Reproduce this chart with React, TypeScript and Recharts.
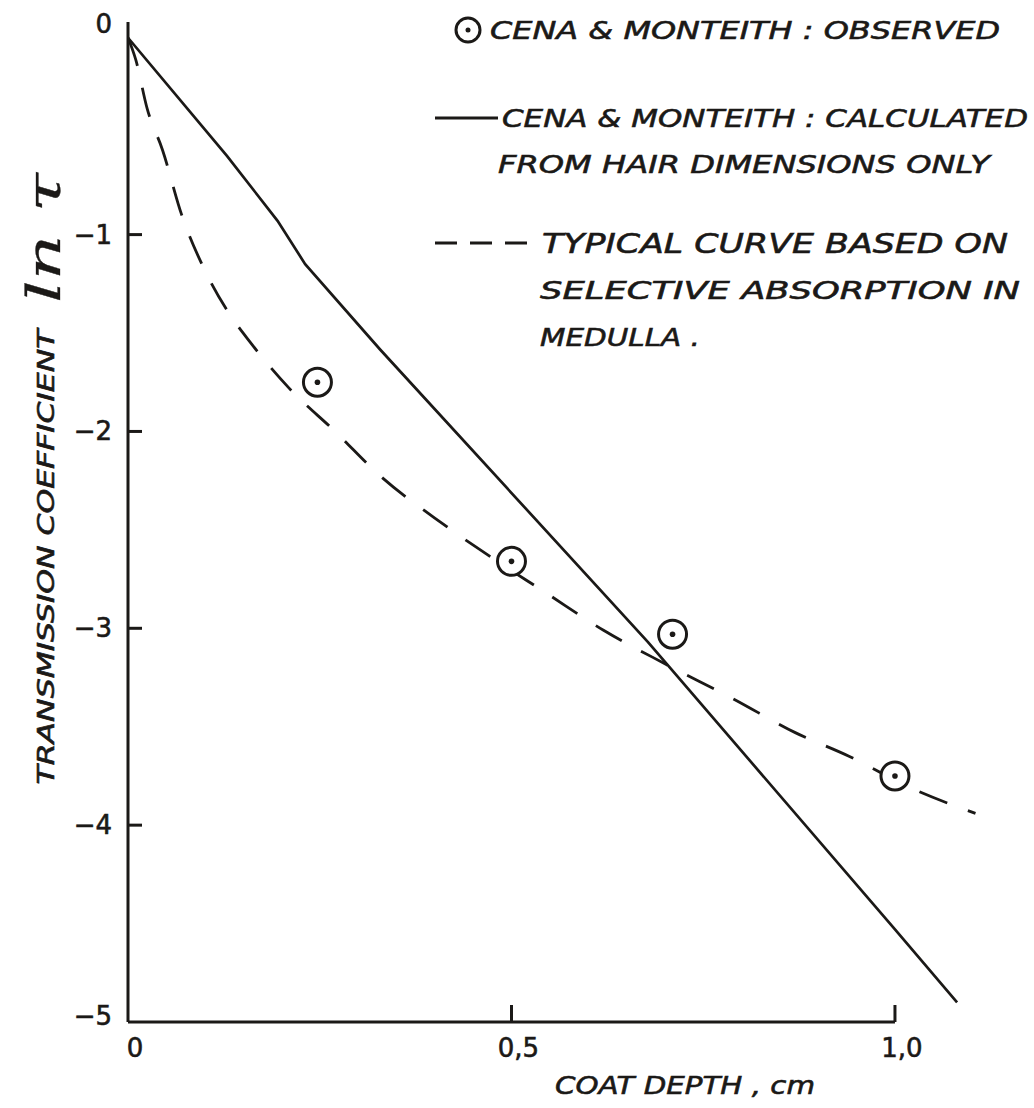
import { ComposedChart, Line, Scatter, XAxis, YAxis, ReferenceLine } from 'recharts'

const INK = '#1b1917'
const FONT = "'DejaVu Sans', sans-serif"

// dashed curve: selective absorption in medulla
const depthDashed = [0, 0.01, 0.025, 0.045, 0.07, 0.1, 0.13, 0.16, 0.21, 0.27, 0.33, 0.4, 0.47, 0.545, 0.62, 0.7, 0.79, 0.87, 0.94, 1.02, 1.105]
const lnDashed = [0, -0.11, -0.36, -0.57, -0.9, -1.18, -1.39, -1.55, -1.78, -2.0, -2.23, -2.44, -2.63, -2.82, -3.01, -3.18, -3.36, -3.53, -3.65, -3.81, -3.94]

// solid line: calculated from hair dimensions only
const depthSolid = [0, 0.129, 0.195, 0.231, 0.329, 0.678, 1.0, 1.081]
const lnSolid = [0, -0.6, -0.93, -1.15, -1.585, -3.07, -4.53, -4.9]

// observed points
const depthObserved = [0.247, 0.5, 0.71, 1.0]
const lnObserved = [-1.75, -2.66, -3.03, -3.75]

const xTicks = [0, 0.5, 1]
const yTicks = [0, -1, -2, -3, -4, -5]

const dashedData = depthDashed.map((d, i) => ({ depth: d, ln: lnDashed[i] }))
const solidData = depthSolid.map((d, i) => ({ depth: d, ln: lnSolid[i] }))
const observedData = depthObserved.map((d, i) => ({ depth: d, ln: lnObserved[i] }))

const YTick = (props: any) => {
  const { x, y, payload } = props
  const v = payload.value
  const label = v === 0 ? '0' : '−' + Math.abs(v)
  const ly = v === 0 ? y - 14 : v === -5 ? y - 6 : y
  return (
    <g>
      {v !== 0 && v !== -5 && <path d={`M${x},${y}h14`} stroke={INK} strokeWidth={3} fill="none" />}
      <text x={x - 16} y={ly} textAnchor="end" dominantBaseline="central" fontFamily={FONT} fontSize={26} fill={INK} stroke={INK} strokeWidth={0.6}>
        {label}
      </text>
    </g>
  )
}

const XTick = (props: any) => {
  const { x, y, payload } = props
  const v = payload.value
  const label = v === 0 ? '0' : v.toFixed(1).replace('.', ',')
  return (
    <g>
      {v !== 0 && <path d={`M${x},${y}v-17`} stroke={INK} strokeWidth={3} fill="none" />}
      <text x={x + 7} y={y + 26} textAnchor="middle" dominantBaseline="central" fontFamily={FONT} fontSize={26} fill={INK} stroke={INK} strokeWidth={0.6}>
        {label}
      </text>
    </g>
  )
}

const Ring = (props: any) => {
  const { cx, cy } = props
  return (
    <g>
      <circle cx={cx} cy={cy} r={14} fill="#fff" stroke={INK} strokeWidth={3} />
      <circle cx={cx} cy={cy} r={2.8} fill={INK} />
    </g>
  )
}

const txt = { fontFamily: FONT, fontStyle: 'italic' as const, fill: INK, stroke: INK, strokeWidth: 0.6 }

export default function App() {
  return (
    <div style={{ position: 'absolute', left: 0, top: 0, width: 1034, height: 1108, background: '#fff' }}>
      <svg width={1034} height={1108} style={{ position: 'absolute', left: 0, top: 0 }}>
        {/* legend */}
        <circle cx={468} cy={30} r={12} fill="none" stroke={INK} strokeWidth={3} />
        <circle cx={468} cy={30} r={2.5} fill={INK} />
        <text x={490} y={30} dominantBaseline="central" fontSize={25} textLength={510} lengthAdjust="spacingAndGlyphs" {...txt}>
          CENA &amp; MONTEITH : OBSERVED
        </text>
        <line x1={435} x2={498} y1={118} y2={118} stroke={INK} strokeWidth={3} />
        <text x={502} y={118} dominantBaseline="central" fontSize={25} textLength={526} lengthAdjust="spacingAndGlyphs" {...txt}>
          CENA &amp; MONTEITH : CALCULATED
        </text>
        <text x={498} y={164} dominantBaseline="central" fontSize={25} textLength={492} lengthAdjust="spacingAndGlyphs" {...txt}>
          FROM HAIR DIMENSIONS ONLY
        </text>
        <line x1={435} x2={528} y1={243} y2={243} stroke={INK} strokeWidth={3} strokeDasharray="22 13" />
        <text x={542} y={243} dominantBaseline="central" fontSize={27} textLength={466} lengthAdjust="spacingAndGlyphs" {...txt}>
          TYPICAL CURVE BASED ON
        </text>
        <text x={540} y={290} dominantBaseline="central" fontSize={25} textLength={480} lengthAdjust="spacingAndGlyphs" {...txt}>
          SELECTIVE ABSORPTION IN
        </text>
        <text x={540} y={337} dominantBaseline="central" fontSize={25} textLength={160} lengthAdjust="spacingAndGlyphs" {...txt}>
          MEDULLA .
        </text>

        {/* axis titles */}
        <text transform="translate(46,557) rotate(-90)" textAnchor="middle" dominantBaseline="central" fontSize={23} textLength={455} lengthAdjust="spacingAndGlyphs" {...txt}>
          TRANSMISSION COEFFICIENT
        </text>
        <text transform="translate(44,238) rotate(-90)" textAnchor="middle" dominantBaseline="central" fontFamily="'DejaVu Serif', serif" fontStyle="italic" fontSize={46} fill={INK} stroke={INK} strokeWidth={0.3} textLength={130} lengthAdjust="spacingAndGlyphs">
          ln τ
        </text>
        <text x={555} y={1085} dominantBaseline="central" fontSize={25} textLength={260} lengthAdjust="spacingAndGlyphs" {...txt}>
          COAT DEPTH , cm
        </text>
      </svg>

      <ComposedChart width={1034} height={1108} margin={{ top: 22, right: 47, left: 0, bottom: 0 }}>
        <XAxis
          dataKey="depth"
          type="number"
          domain={[0, 1.12]}
          ticks={xTicks}
          height={86}
          axisLine={false}
          tickLine={false}
          tickSize={0}
          tickMargin={0}
          tick={<XTick />}
          allowDataOverflow
        />
        <YAxis
          dataKey="ln"
          type="number"
          domain={[-5, 0.08]}
          ticks={yTicks}
          width={128}
          axisLine={{ stroke: INK, strokeWidth: 3 }}
          tickLine={false}
          tickSize={0}
          tickMargin={0}
          tick={<YTick />}
          interval={0}
          allowDataOverflow
        />
        <ReferenceLine
          segment={[{ x: 0, y: -5 }, { x: 1, y: -5 }]}
          stroke={INK}
          strokeWidth={3}
          ifOverflow="visible"
        />
        <Line
          data={solidData}
          dataKey="ln"
          type="linear"
          stroke={INK}
          strokeWidth={2.7}
          dot={false}
          isAnimationActive={false}
        />
        <Line
          data={dashedData}
          dataKey="ln"
          type="monotone"
          stroke={INK}
          strokeWidth={2.8}
          strokeDasharray="30 22"
          dot={false}
          isAnimationActive={false}
        />
        <Scatter data={observedData} dataKey="ln" shape={<Ring />} isAnimationActive={false} />
      </ComposedChart>
    </div>
  )
}
